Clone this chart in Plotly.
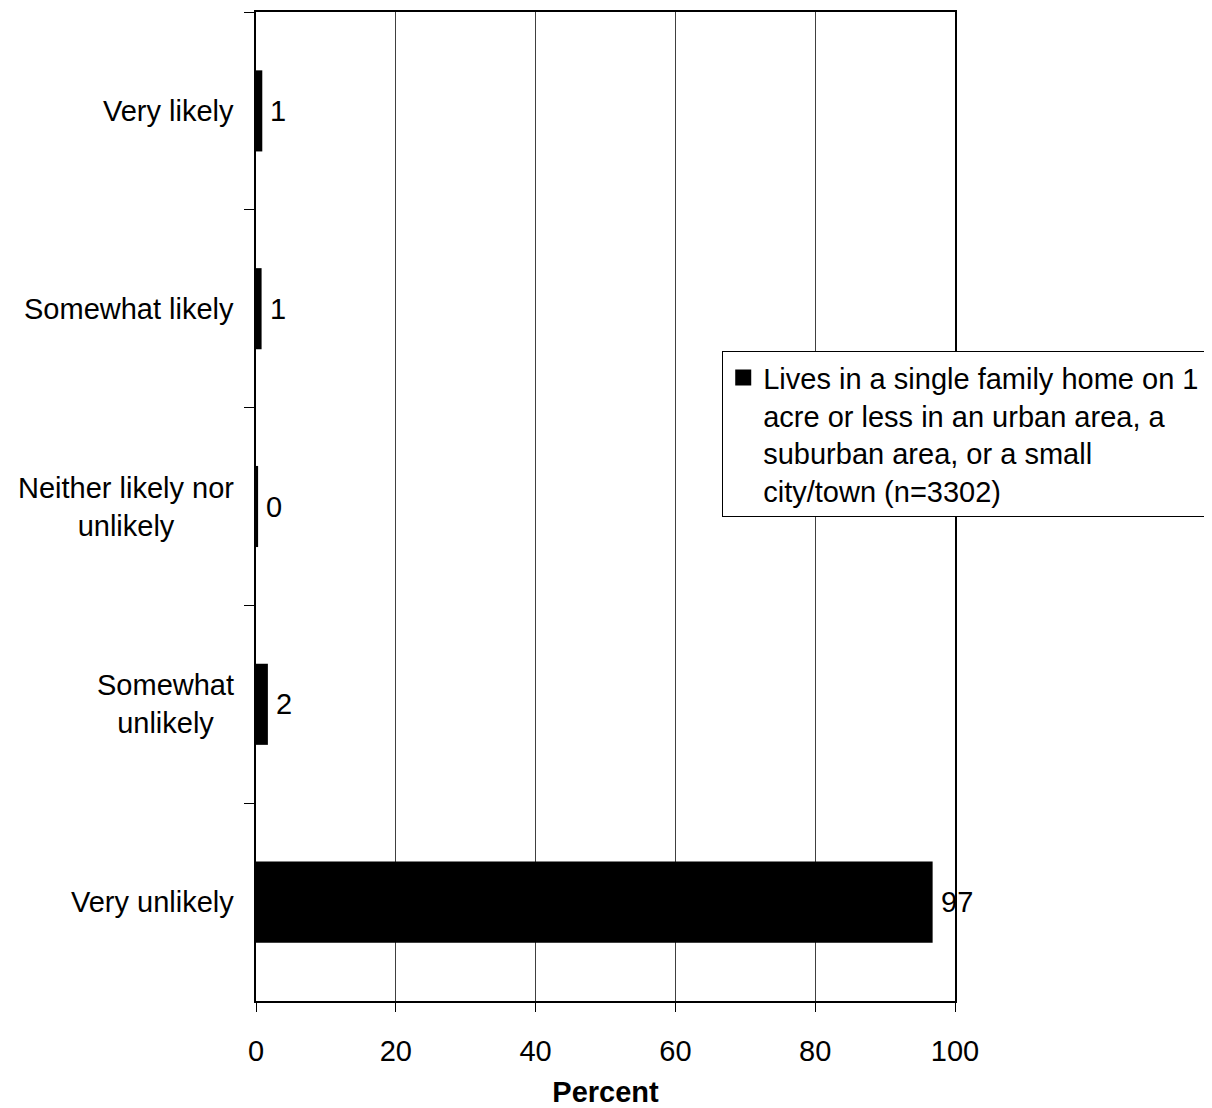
import plotly.graph_objects as go

categories = ["Very likely", "Somewhat likely", "Neither likely nor<br>unlikely",
              "Somewhat<br>unlikely", "Very unlikely"]
values = [0.9, 0.8, 0.3, 1.7, 96.8]
value_labels = ["1", "1", "0", "2", "97"]
series_name = ("Lives in a single family home on 1<br>acre or less in an urban area, a<br>"
               "suburban area, or a small<br>city/town (n=3302)")
x_ticks = [0, 20, 40, 60, 80, 100]

FONT = "Liberation Sans, Arial, sans-serif"
FS = 29

fig = go.Figure()
fig.add_trace(go.Bar(
    x=values, y=categories, orientation="h", width=0.41,
    marker=dict(color="black", line=dict(width=0)),
    name=series_name, showlegend=False,
))
# legend entry (square swatch)
fig.add_trace(go.Scatter(
    x=[None], y=[None], mode="markers", name=series_name,
    marker=dict(symbol="square", size=18, color="black"), showlegend=True,
))

annotations = []
for c, v, t in zip(categories, values, value_labels):
    annotations.append(dict(x=v, y=c, xref="x", yref="y", text=t, showarrow=False,
                            xanchor="left", yanchor="middle", xshift=6,
                            font=dict(family=FONT, size=FS, color="black")))
    annotations.append(dict(x=0, y=c, xref="paper", yref="y", text=c, showarrow=False,
                            xanchor="right", yanchor="middle", xshift=-20, align="center",
                            font=dict(family=FONT, size=FS, color="black")))

fig.update_layout(
    width=1204, height=1100,
    margin=dict(l=248, r=257, t=2, b=107),
    paper_bgcolor="white", plot_bgcolor="white",
    font=dict(family=FONT, size=FS, color="black"),
    annotations=annotations,
    legend=dict(x=0.667, y=0.657, xanchor="left", yanchor="top",
                bordercolor="black", borderwidth=1, bgcolor="white",
                valign="top", font=dict(family=FONT, size=FS, color="black")),
    xaxis=dict(range=[0, 100], tickvals=x_ticks, ticks="outside", ticklen=9,
               tickcolor="black", tickwidth=1, ticklabelstandoff=14,
               showline=True, linecolor="black", linewidth=2, mirror=True,
               showgrid=True, gridcolor="#404040", gridwidth=1, zeroline=False,
               tickfont=dict(family=FONT, size=FS),
               title=dict(text="<b>Percent</b>", font=dict(family=FONT, size=FS), standoff=16)),
    yaxis=dict(categoryorder="array", categoryarray=categories, autorange="reversed",
               tickson="boundaries", ticks="outside", ticklen=10, tickcolor="black",
               showticklabels=False, showgrid=False, zeroline=False,
               showline=True, linecolor="black", linewidth=2, mirror=True),
)

fig.write_html("out.html")
